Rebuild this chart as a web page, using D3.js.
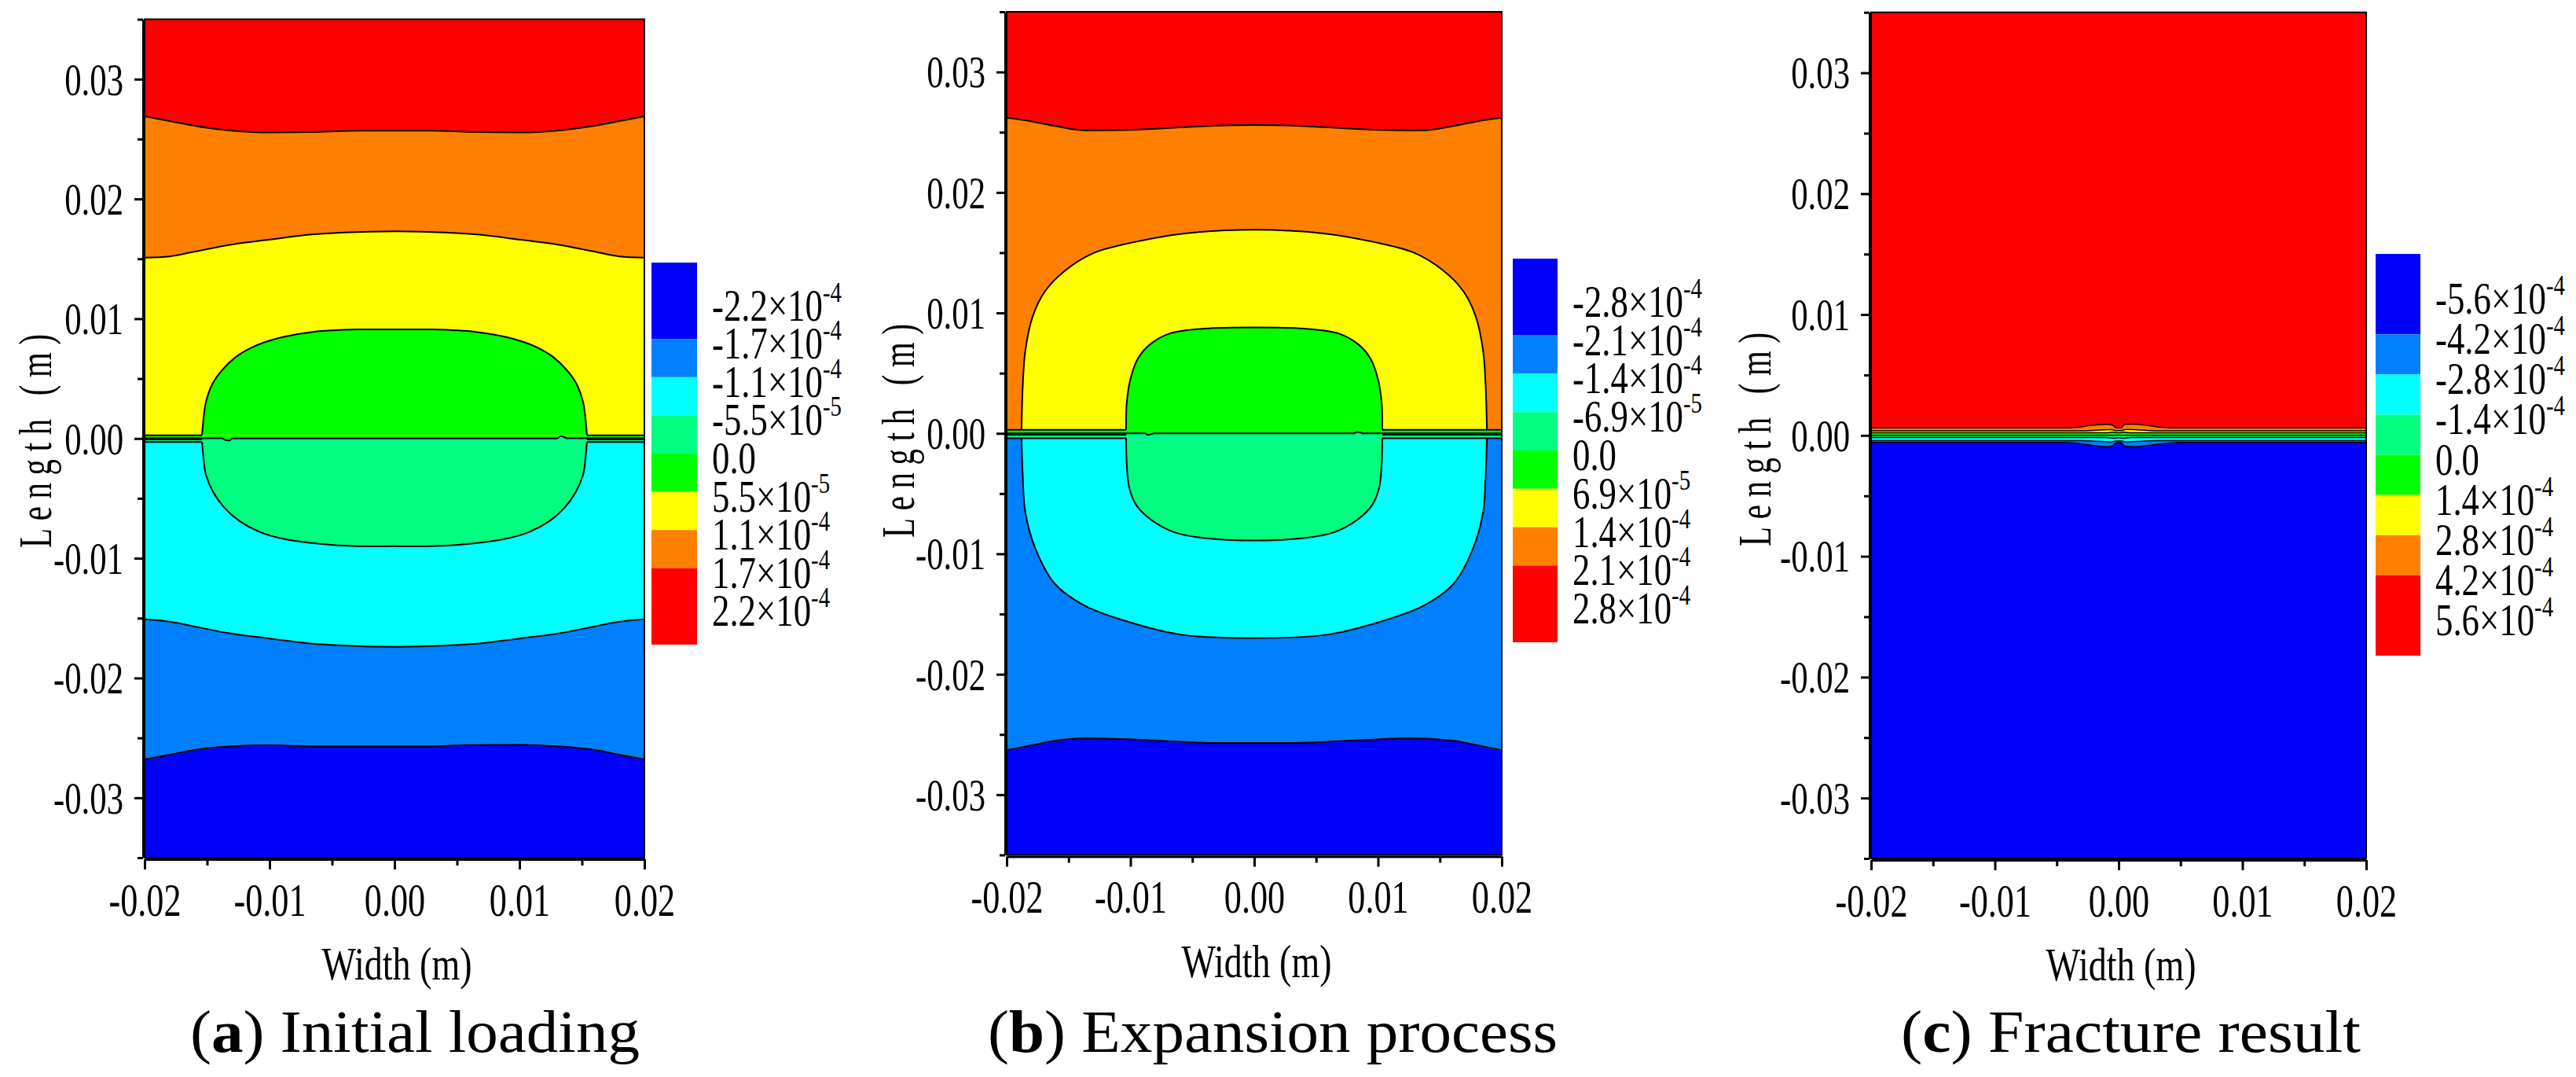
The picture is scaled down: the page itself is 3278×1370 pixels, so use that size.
<!DOCTYPE html>
<html>
<head>
<meta charset="utf-8">
<script src="https://cdn.jsdelivr.net/npm/d3@7"></script>
<style>
    body { margin: 0; background: #fff; }
    svg, svg text { font-family: "Liberation Serif", "Times New Roman", serif; fill: #000; }
</style>
</head>
<body>
<svg id="chart" width="3278" height="1370" font-family="Liberation Serif, serif"></svg>
<script>
// contour level colours, most negative first
const levelColors = ["#0000ff", "#0080ff", "#00ffff", "#00ff80", "#00ff00", "#ffff00", "#ff8000", "#ff0000"];
const levelUnits = [2, 1, 1, 1, 1, 1, 1, 2];
const [BLUE, DODGER, CYAN, SPRING, GREEN, YELLOW, ORANGE, RED] = levelColors;

const xTicks = [-0.02, -0.01, 0, 0.01, 0.02];
const xMinor = [-0.015, -0.005, 0.005, 0.015];
const yTicks = [-0.03, -0.02, -0.01, 0, 0.01, 0.02, 0.03];
const yMinor = [-0.035, -0.025, -0.015, -0.005, 0.005, 0.015, 0.025, 0.035];

// colorbar labels (mantissa, exponent)
const cbA = ["-2.2", "-1.7", "-1.1", "-5.5", "0.0", "5.5", "1.1", "1.7", "2.2"];
const cbAExp = [-4, -4, -4, -5, null, -5, -4, -4, -4];
const cbB = ["-2.8", "-2.1", "-1.4", "-6.9", "0.0", "6.9", "1.4", "2.1", "2.8"];
const cbBExp = [-4, -4, -4, -5, null, -5, -4, -4, -4];
const cbC = ["-5.6", "-4.2", "-2.8", "-1.4", "0.0", "1.4", "2.8", "4.2", "5.6"];
const cbCExp = [-4, -4, -4, -4, null, -4, -4, -4, -4];

// ---- (a) initial loading : contour boundaries [x, y] in m ----
const aRedOrange = [[-0.02,0.0269],[-0.018,0.0265],[-0.016,0.0261],[-0.013,0.0257],[-0.010,0.02555],[-0.006,0.0256],[-0.003,0.0257],[0,0.0257],[0.003,0.0257],[0.006,0.0256],[0.010,0.02555],[0.013,0.0257],[0.016,0.0261],[0.018,0.0265],[0.02,0.0269]];
const aOrangeYellow = [[-0.02,0.0151],[-0.018,0.0152],[-0.016,0.0156],[-0.013,0.0162],[-0.010,0.0166],[-0.007,0.0170],[-0.004,0.0172],[0,0.0173],[0.004,0.0172],[0.007,0.0170],[0.010,0.0166],[0.013,0.0162],[0.016,0.0156],[0.018,0.0152],[0.02,0.0151]];
const aGreenDome = [[-0.0154,0.0003],[-0.0153,0.0015],[-0.0151,0.0030],[-0.0146,0.0045],[-0.0138,0.0057],[-0.0127,0.0068],[-0.0112,0.0077],[-0.0092,0.0084],[-0.0065,0.0089],[-0.0030,0.0091],[0,0.0091],[0.0030,0.0091],[0.0065,0.0089],[0.0092,0.0084],[0.0112,0.0077],[0.0127,0.0068],[0.0138,0.0057],[0.0146,0.0045],[0.0151,0.0030],[0.0153,0.0015],[0.0154,0.0003]];
const aBandTop = [[-0.02,0.00026],[0.02,0.00026]];
const aBandTopL = [[-0.02,0.00026],[-0.0154,0.00026]];
const aBandTopR = [[0.0154,0.00026],[0.02,0.00026]];
const aCrack = [[-0.02,0.00002],[-0.0138,0.00002],[-0.0135,-0.00015],[-0.0132,-0.00018],[-0.0130,0],[0.0130,0],[0.0133,0.0002],[0.0136,0.0001],[0.0138,0.00002],[0.02,0.00002]];
const aCrackLowL = [[-0.02,-0.00008],[-0.0154,-0.00008]];
const aCrackLowR = [[0.0154,-0.00008],[0.02,-0.00008]];
const aBandBottom = [[-0.02,-0.0003],[0.02,-0.0003]];
const aBandBottomL = [[-0.02,-0.0003],[-0.0154,-0.0003]];
const aBandBottomR = [[0.0154,-0.0003],[0.02,-0.0003]];
const aSpringDome = [[-0.0154,-0.0003],[-0.0153,-0.0015],[-0.0151,-0.0030],[-0.0145,-0.0045],[-0.0136,-0.0058],[-0.0124,-0.0069],[-0.0108,-0.0078],[-0.0088,-0.0084],[-0.0060,-0.0088],[-0.0030,-0.0090],[0,-0.0090],[0.0030,-0.0090],[0.0060,-0.0088],[0.0088,-0.0084],[0.0108,-0.0078],[0.0124,-0.0069],[0.0136,-0.0058],[0.0145,-0.0045],[0.0151,-0.0030],[0.0153,-0.0015],[0.0154,-0.0003]];
const aCyanDodger = [[-0.02,-0.0151],[-0.018,-0.0153],[-0.016,-0.0157],[-0.013,-0.0163],[-0.010,-0.0167],[-0.007,-0.0171],[-0.004,-0.0173],[0,-0.0174],[0.004,-0.0173],[0.007,-0.0171],[0.010,-0.0167],[0.013,-0.0163],[0.016,-0.0157],[0.018,-0.0153],[0.02,-0.0151]];
const aDodgerBlue = [[-0.02,-0.0268],[-0.018,-0.0264],[-0.016,-0.0260],[-0.013,-0.0257],[-0.010,-0.02562],[-0.006,-0.0257],[-0.003,-0.0257],[0,-0.0257],[0.003,-0.0257],[0.006,-0.0256],[0.010,-0.02558],[0.013,-0.0257],[0.016,-0.0260],[0.018,-0.0264],[0.02,-0.0268]];

// ---- (b) expansion process ----
const bRedOrange = [[-0.02,0.0262],[-0.018,0.0259],[-0.016,0.0255],[-0.0135,0.02515],[-0.010,0.0252],[-0.006,0.0254],[-0.003,0.02555],[0,0.0256],[0.003,0.02555],[0.006,0.0254],[0.010,0.0252],[0.0135,0.02515],[0.016,0.0255],[0.018,0.0259],[0.02,0.0262]];
const bYellowDome = [[-0.0188,0.0003],[-0.0187,0.0039],[-0.0185,0.0068],[-0.0179,0.0097],[-0.0169,0.0118],[-0.0153,0.0135],[-0.0129,0.0150],[-0.0096,0.0159],[-0.0056,0.0166],[0,0.0169],[0.0056,0.0166],[0.0096,0.0159],[0.0129,0.0150],[0.0153,0.0135],[0.0169,0.0118],[0.0179,0.0097],[0.0185,0.0068],[0.0187,0.0039],[0.0188,0.0003]];
const bGreenDome = [[-0.01035,0.0003],[-0.0103,0.0025],[-0.0100,0.0045],[-0.0094,0.0062],[-0.0084,0.0074],[-0.0068,0.0083],[-0.0040,0.0087],[0,0.0088],[0.0040,0.0087],[0.0068,0.0083],[0.0084,0.0074],[0.0094,0.0062],[0.0100,0.0045],[0.0103,0.0025],[0.01035,0.0003]];
const bBandTop = [[-0.02,0.0003],[0.02,0.0003]];
const bBandTopL = [[-0.02,0.0003],[-0.01035,0.0003]];
const bBandTopR = [[0.01035,0.0003],[0.02,0.0003]];
const bCrack = [[-0.02,0],[-0.0088,0],[-0.0086,-0.00012],[-0.0083,-0.00006],[-0.0081,0],[0.0081,0],[0.0083,0.00012],[0.0086,0.00006],[0.0088,0],[0.02,0]];
const bCrackLowL = [[-0.02,-0.00012],[-0.01035,-0.00012]];
const bCrackLowR = [[0.01035,-0.00012],[0.02,-0.00012]];
const bBandBottom = [[-0.02,-0.0004],[0.02,-0.0004]];
const bBandBottomL = [[-0.02,-0.0004],[-0.01035,-0.0004]];
const bBandBottomR = [[0.01035,-0.0004],[0.02,-0.0004]];
const bCyanDome = [[-0.0188,-0.0004],[-0.0187,-0.0035],[-0.0185,-0.0065],[-0.0177,-0.0095],[-0.0161,-0.0125],[-0.0137,-0.0143],[-0.0100,-0.0157],[-0.0060,-0.0167],[0,-0.0170],[0.0060,-0.0167],[0.0100,-0.0157],[0.0137,-0.0143],[0.0161,-0.0125],[0.0177,-0.0095],[0.0185,-0.0065],[0.0187,-0.0035],[0.0188,-0.0004]];
const bSpringDome = [[-0.01035,-0.0004],[-0.0103,-0.0025],[-0.0101,-0.0045],[-0.0095,-0.0060],[-0.0083,-0.0072],[-0.0065,-0.0082],[-0.0040,-0.0087],[0,-0.0089],[0.0040,-0.0087],[0.0065,-0.0082],[0.0083,-0.0072],[0.0095,-0.0060],[0.0101,-0.0045],[0.0103,-0.0025],[0.01035,-0.0004]];
const bDodgerBlue = [[-0.02,-0.0263],[-0.018,-0.0259],[-0.016,-0.0255],[-0.0135,-0.0253],[-0.010,-0.0254],[-0.006,-0.0256],[-0.003,-0.0257],[0,-0.0257],[0.003,-0.0257],[0.006,-0.0256],[0.010,-0.0254],[0.0125,-0.0253],[0.016,-0.0255],[0.018,-0.0259],[0.02,-0.0263]];

// ---- (c) fracture result ----
const cRedOrange = [[-0.02,0.00062],[-0.0046,0.00062],[-0.0032,0.00068],[-0.0024,0.00080],[-0.0016,0.00088],[-0.0009,0.00092],[-0.0005,0.00085],[-0.0002,0.00062],[0.0002,0.00062],[0.0005,0.00092],[0.0012,0.00093],[0.0020,0.00086],[0.0028,0.00075],[0.0036,0.00066],[0.0046,0.00062],[0.02,0.00062]];
const cOrangeYellow = [[-0.02,0.00038],[-0.0030,0.00038],[-0.0015,0.00045],[-0.0006,0.00048],[-0.0002,0.00040],[0.0002,0.00040],[0.0006,0.00050],[0.0015,0.00046],[0.0030,0.00038],[0.02,0.00038]];
const cYellowGreen = [[-0.02,0.00021],[-0.0010,0.00021],[-0.0004,0.00026],[0,0.00022],[0.0004,0.00026],[0.0010,0.00021],[0.02,0.00021]];
const cGreenSpring = [[-0.02,0.0],[0.02,0.0]];
const cSpringCyan = [[-0.02,-0.00018],[-0.0010,-0.00018],[-0.0004,-0.00024],[0,-0.00019],[0.0004,-0.00024],[0.0010,-0.00018],[0.02,-0.00018]];
const cCyanDodger = [[-0.02,-0.00044],[-0.0030,-0.00044],[-0.0015,-0.0005],[-0.0006,-0.00054],[-0.0002,-0.00046],[0.0002,-0.00046],[0.0006,-0.00054],[0.0015,-0.0005],[0.0030,-0.00044],[0.02,-0.00044]];
const cDodgerBlue = [[-0.02,-0.00058],[-0.0046,-0.00058],[-0.0034,-0.00064],[-0.0024,-0.00078],[-0.0016,-0.00088],[-0.0009,-0.00094],[-0.0005,-0.00086],[-0.0002,-0.00060],[0.0002,-0.00060],[0.0005,-0.00090],[0.0012,-0.00093],[0.0020,-0.00088],[0.0030,-0.00074],[0.0040,-0.00064],[0.0050,-0.00058],[0.02,-0.00058]];

// painter order: fills first (area = filled down to the bottom, dome = closed shape), then lines
const panels = [
    {
        letter: "a", caption: ") Initial loading", capX: 242, capLen: 572,
        xr: [184, 820], yr: [1091, 24.5], titleX: 65, titleY: 561, lw: 2,
        cb: { x: 829, w: 58, top: 334, bot: 820 }, cbLabels: cbA, cbExp: cbAExp,
        fills: [
            ["area", aRedOrange, ORANGE], ["area", aOrangeYellow, YELLOW], ["dome", aGreenDome, GREEN],
            ["area", aBandTop, GREEN], ["area", aCrack, SPRING], ["area", aBandBottom, CYAN],
            ["dome", aSpringDome, SPRING], ["area", aCyanDodger, DODGER], ["area", aDodgerBlue, BLUE]
        ],
        lines: [
            ["flat", aRedOrange], ["flat", aOrangeYellow], ["dome", aGreenDome], ["flat", aBandTopL], ["flat", aBandTopR],
            ["flat", aCrack], ["flat", aCrackLowL], ["flat", aCrackLowR], ["flat", aBandBottomL], ["flat", aBandBottomR],
            ["dome", aSpringDome], ["flat", aCyanDodger], ["flat", aDodgerBlue]
        ]
    },
    {
        letter: "b", caption: ") Expansion process", capX: 1257, capLen: 725,
        xr: [1281, 1911], yr: [1087.5, 15], titleX: 1163, titleY: 548, lw: 2,
        cb: { x: 1925, w: 57, top: 329, bot: 817 }, cbLabels: cbB, cbExp: cbBExp,
        fills: [
            ["area", bRedOrange, ORANGE], ["dome", bYellowDome, YELLOW], ["dome", bGreenDome, GREEN],
            ["area", bBandTop, GREEN], ["area", bCrack, SPRING], ["area", bBandBottom, DODGER],
            ["dome", bCyanDome, CYAN], ["dome", bSpringDome, SPRING], ["area", bDodgerBlue, BLUE]
        ],
        lines: [
            ["flat", bRedOrange], ["dome", bYellowDome], ["dome", bGreenDome], ["flat", bBandTopL], ["flat", bBandTopR],
            ["flat", bCrack], ["flat", bCrackLowL], ["flat", bCrackLowR], ["flat", bBandBottomL], ["flat", bBandBottomR],
            ["dome", bCyanDome], ["dome", bSpringDome], ["flat", bDodgerBlue]
        ]
    },
    {
        letter: "c", caption: ") Fracture result", capX: 2419, capLen: 585,
        xr: [2381, 3011], yr: [1092, 15.7], titleX: 2253, titleY: 559, lw: 1.5,
        cb: { x: 3023, w: 57, top: 323, bot: 834 }, cbLabels: cbC, cbExp: cbCExp,
        fills: [
            ["area", cRedOrange, ORANGE], ["area", cOrangeYellow, YELLOW], ["area", cYellowGreen, GREEN],
            ["area", cGreenSpring, SPRING], ["area", cSpringCyan, CYAN], ["area", cCyanDodger, DODGER],
            ["area", cDodgerBlue, BLUE]
        ],
        lines: [
            ["flat", cRedOrange], ["flat", cOrangeYellow], ["flat", cYellowGreen], ["flat", cGreenSpring],
            ["flat", cSpringCyan], ["flat", cCyanDodger], ["flat", cDodgerBlue]
        ]
    }
];

const FONT = "Liberation Serif, Times New Roman, serif";
const svg = d3.select("#chart");
svg.append("rect").attr("width", 3278).attr("height", 1370).attr("fill", "#fff");

function drawPanel(p, i) {
    const x = d3.scaleLinear().domain([-0.02, 0.02]).range(p.xr);
    const y = d3.scaleLinear().domain([-0.035, 0.035]).range(p.yr);
    const [x0, x1] = p.xr;
    const [yB, yT] = p.yr;

    svg.append("clipPath").attr("id", "clip" + i)
        .append("rect").attr("x", x0).attr("y", yT).attr("width", x1 - x0).attr("height", yB - yT);

    const plot = svg.append("g").attr("clip-path", `url(#clip${i})`);

    const area = d3.area()
        .x(d => x(d[0])).y0(y(-0.035)).y1(d => y(d[1]))
        .curve(d3.curveMonotoneX);
    const flat = d3.line().x(d => x(d[0])).y(d => y(d[1])).curve(d3.curveMonotoneX);
    const dome = d3.line().x(d => x(d[0])).y(d => y(d[1])).curve(d3.curveCatmullRom.alpha(0.5));

    plot.append("rect")
        .attr("x", x0).attr("y", yT).attr("width", x1 - x0).attr("height", yB - yT)
        .attr("fill", RED);

    p.fills.forEach(([kind, pts, color]) => {
        plot.append("path")
            .attr("d", kind === "area" ? area(pts) : dome(pts) + "Z")
            .attr("fill", color);
    });

    p.lines.forEach(([kind, pts]) => {
        plot.append("path")
            .attr("d", kind === "dome" ? dome(pts) : flat(pts))
            .attr("fill", "none")
            .attr("stroke", "#000")
            .attr("stroke-width", p.lw);
    });

    // frame
    svg.append("rect")
        .attr("x", x0).attr("y", yT).attr("width", x1 - x0).attr("height", yB - yT)
        .attr("fill", "none").attr("stroke", "#000").attr("stroke-width", 2);

    // y axis
    const yAxis = svg.append("g")
        .attr("transform", `translate(${x0 - 2},0)`)
        .call(d3.axisLeft(y).tickValues(yTicks).tickSize(11).tickSizeOuter(0)
            .tickFormat(d => d.toFixed(2)))
        .attr("font-family", FONT);
    svg.append("g")
        .attr("transform", `translate(${x0 - 2},0)`)
        .call(d3.axisLeft(y).tickValues(yMinor).tickSize(7).tickSizeOuter(0).tickFormat(""))
        .select(".domain").remove();

    // x axis
    const xAxis = svg.append("g")
        .attr("transform", `translate(0,${yB + 2})`)
        .call(d3.axisBottom(x).tickValues(xTicks).tickSize(13).tickSizeOuter(0)
            .tickFormat(d => d.toFixed(2)))
        .attr("font-family", FONT);
    svg.append("g")
        .attr("transform", `translate(0,${yB + 2})`)
        .call(d3.axisBottom(x).tickValues(xMinor).tickSize(8).tickSizeOuter(0).tickFormat(""))
        .select(".domain").remove();

    svg.selectAll(".domain").attr("stroke", "#000").attr("stroke-width", 3);
    svg.selectAll(".tick line").attr("stroke", "#000").attr("stroke-width", 3);

    yAxis.selectAll("text")
        .attr("x", -25 / 0.75)
        .attr("dy", "0.34em")
        .attr("transform", "scale(0.75,1)")
        .style("font-family", FONT)
        .style("font-size", "57px");

    xAxis.selectAll("text")
        .attr("y", 72)
        .attr("dy", 0)
        .attr("transform", "scale(0.75,1)")
        .style("font-family", FONT)
        .style("font-size", "59px");

    // axis titles
    svg.append("text")
        .attr("transform", `translate(${x(0) + 3},${yB + 155}) scale(0.78,1)`)
        .attr("text-anchor", "middle")
        .style("font-family", FONT)
        .style("font-size", "59px")
        .text("Width (m)");

    svg.append("text")
        .attr("transform", `translate(${p.titleX},${p.titleY}) rotate(-90) scale(0.68,1)`)
        .attr("text-anchor", "middle")
        .attr("textLength", 400)
        .attr("lengthAdjust", "spacing")
        .style("font-family", FONT)
        .style("font-size", "60px")
        .text("Length (m)");

    // colorbar
    const cb = d3.scaleLinear().domain([0, d3.sum(levelUnits)]).range([p.cb.top, p.cb.bot]);
    const starts = [0, ...d3.cumsum(levelUnits)];
    svg.append("g").selectAll("rect")
        .data(levelColors)
        .join("rect")
        .attr("x", p.cb.x)
        .attr("width", p.cb.w)
        .attr("y", (d, k) => cb(starts[k]))
        .attr("height", (d, k) => cb(starts[k + 1]) - cb(starts[k]))
        .attr("fill", d => d);

    const lab = svg.append("g").selectAll("text")
        .data(p.cbLabels)
        .join("text")
        .attr("transform", (d, k) => `translate(${p.cb.x + p.cb.w + 19},${cb(k + 1) + 25}) scale(0.8,1)`)
        .style("font-family", FONT);
    lab.append("tspan")
        .style("font-size", "56px")
        .text((d, k) => p.cbExp[k] === null ? d : d + "\u00d710");
    lab.append("tspan")
        .attr("dy", -24)
        .style("font-size", "36px")
        .text((d, k) => p.cbExp[k] === null ? "" : String(p.cbExp[k]));

    // caption
    const cap = svg.append("text")
        .attr("x", p.capX).attr("y", 1338)
        .attr("textLength", p.capLen)
        .attr("lengthAdjust", "spacingAndGlyphs")
        .style("font-family", FONT)
        .style("font-size", "76px");
    cap.append("tspan").text("(");
    cap.append("tspan").attr("font-weight", "bold").text(p.letter);
    cap.append("tspan").text(p.caption);
}

panels.forEach(drawPanel);
</script>
</body>
</html>
